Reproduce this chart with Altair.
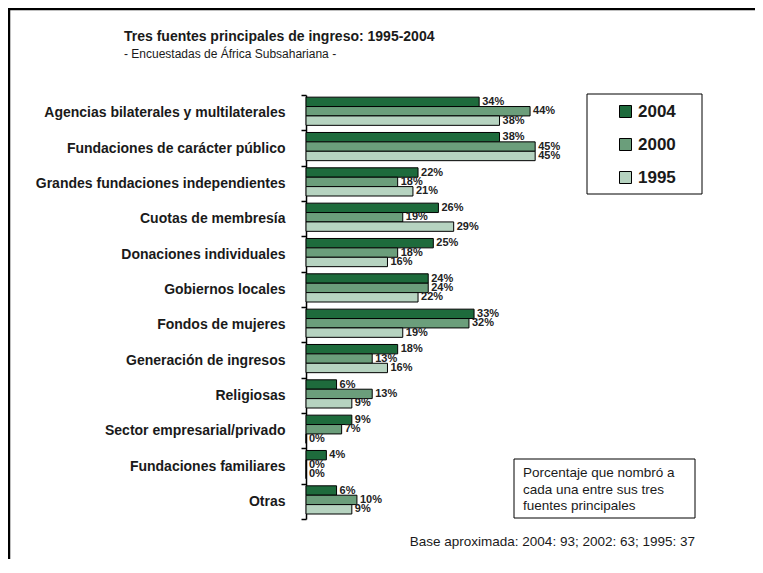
import altair as alt
import pandas as pd

categories = [
    "Agencias bilaterales y multilaterales",
    "Fundaciones de carácter público",
    "Grandes fundaciones independientes",
    "Cuotas de membresía",
    "Donaciones individuales",
    "Gobiernos locales",
    "Fondos de mujeres",
    "Generación de ingresos",
    "Religiosas",
    "Sector empresarial/privado",
    "Fundaciones familiares",
    "Otras",
]
years = ["2004", "2000", "1995"]
v2004 = [34, 38, 22, 26, 25, 24, 33, 18, 6, 9, 4, 6]
v2000 = [44, 45, 18, 19, 18, 24, 32, 13, 13, 7, 0, 10]
v1995 = [38, 45, 21, 29, 16, 22, 19, 16, 9, 0, 0, 9]
colors = ["#1e6b3c", "#6b9e7b", "#b6d3c0"]

title_text = "Tres fuentes principales de ingreso: 1995-2004"
subtitle_text = "- Encuestadas de África Subsahariana -"
note_text = "Porcentaje que nombró a\ncada una entre sus tres\nfuentes principales"
base_text = "Base aproximada: 2004: 93; 2002: 63; 1995: 37"

rows = []
for yr, vals in zip(years, [v2004, v2000, v1995]):
    for c, v in zip(categories, vals):
        rows.append({"cat": c, "year": yr, "value": v, "label": f"{v}%"})
df = pd.DataFrame(rows)

FONT = "Liberation Sans, Arial, sans-serif"

y_enc = alt.Y("cat:N", sort=categories, title=None,
              scale=alt.Scale(paddingInner=0, paddingOuter=0),
              axis=alt.Axis(tickBand="extent", tickSize=5, tickColor="black",
                            domainColor="black", domainWidth=1.5, tickWidth=1.5,
                            labelFont=FONT, labelFontSize=14, labelFontWeight="bold",
                            labelColor="#1a1a1a", labelPadding=16, labelLimit=300))
yoff_enc = alt.YOffset("year:N", sort=years,
                       scale=alt.Scale(paddingInner=0, paddingOuter=0.38, align=0.3))
x_enc = alt.X("value:Q", axis=None, scale=alt.Scale(domain=[0, 86.4], nice=False))

base = alt.Chart(df)

bars = base.mark_bar(stroke="black", strokeWidth=1).encode(
    x=x_enc, y=y_enc, yOffset=yoff_enc,
    color=alt.Color("year:N", sort=years,
                    scale=alt.Scale(domain=years, range=colors),
                    legend=alt.Legend(title=None, orient="none", legendX=311, legendY=8,
                                      symbolType="square", symbolSize=144,
                                      symbolStrokeColor="black", symbolStrokeWidth=1,
                                      symbolOpacity=1,
                                      labelFont=FONT, labelFontSize=17,
                                      labelFontWeight="bold", labelColor="#1a1a1a",
                                      labelOffset=4, rowPadding=15, padding=0)),
)

labels = base.mark_text(align="left", baseline="middle", dx=3, font=FONT,
                        fontSize=11, fontWeight="bold", color="#222").encode(
    x=x_enc, y=y_enc, yOffset=yoff_enc, text="label:N")

one = alt.Chart(pd.DataFrame({"a": [0]}))

title_mark = one.mark_text(align="left", baseline="alphabetic", font=FONT,
                           fontSize=14, fontWeight="bold", color="#1a1a1a").encode(
    x=alt.value(-182), y=alt.value(-54), text=alt.value(title_text))
subtitle_mark = one.mark_text(align="left", baseline="alphabetic", font=FONT,
                              fontSize=12, color="#1a1a1a").encode(
    x=alt.value(-182), y=alt.value(-37.5), text=alt.value(subtitle_text))

legend_box = one.mark_rect(fill=None, stroke="black", strokeWidth=1).encode(
    x=alt.value(281), x2=alt.value(396), y=alt.value(-1), y2=alt.value(99))

note_box = one.mark_rect(fill=None, stroke="black", strokeWidth=1).encode(
    x=alt.value(208), x2=alt.value(389), y=alt.value(364), y2=alt.value(423))

note = one.mark_text(align="left", baseline="middle", font=FONT, fontSize=13.5,
                     lineHeight=16.5, lineBreak="\n", color="#1a1a1a").encode(
    x=alt.value(217), y=alt.value(378), text=alt.value(note_text))

base_note = one.mark_text(align="right", baseline="middle", font=FONT, fontSize=13.5,
                          color="#1a1a1a").encode(
    x=alt.value(389), y=alt.value(447), text=alt.value(base_text))

frame_top = one.mark_rule(color="black", strokeWidth=2.5).encode(
    x=alt.value(-297), x2=alt.value(460), y=alt.value(-86))
frame_left = one.mark_rule(color="black", strokeWidth=2.5).encode(
    x=alt.value(-297), y=alt.value(-87), y2=alt.value(470))

chart = alt.layer(
    bars, labels, title_mark, subtitle_mark, legend_box, note_box, note, base_note,
    frame_top, frame_left
).properties(
    width=440, height=424,
    autosize=alt.AutoSizeParams(type="none"),
    padding={"left": 298, "top": 87, "right": 9, "bottom": 40},
).configure_view(stroke=None)

chart.save("out.html", embed_options={"renderer": "svg", "actions": False})
